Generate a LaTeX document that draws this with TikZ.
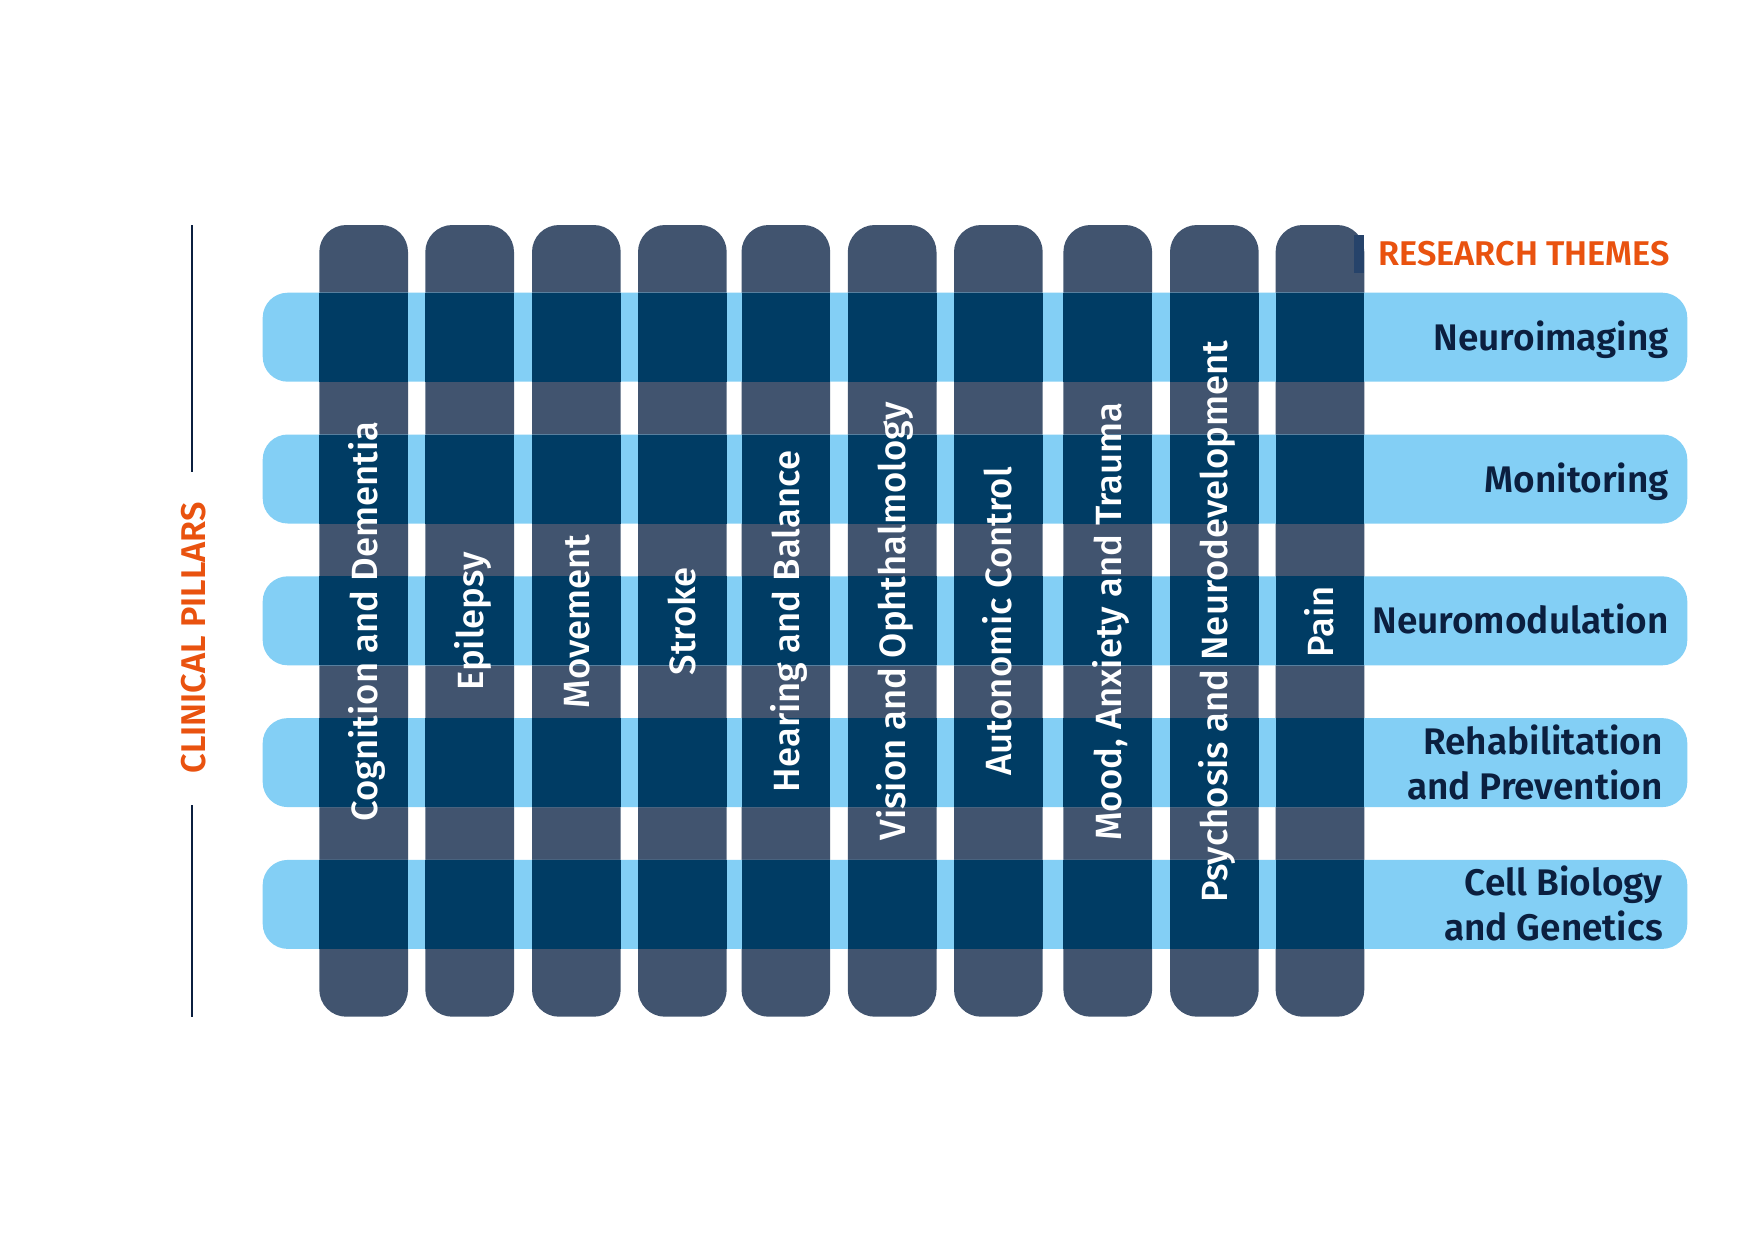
\documentclass[tikz,border=0pt]{standalone}
\usepackage{fontspec}
\setmainfont{Fira Sans}
\newfontfamily\semifont{Fira Sans SemiBold}
\newfontfamily\medfont{Fira Sans Medium}
\definecolor{pillarcol}{HTML}{41546F}
\definecolor{bandcol}{HTML}{83CFF5}
\definecolor{overcol}{HTML}{003C64}
\definecolor{stripcol}{HTML}{26436A}
\definecolor{navy}{HTML}{0B1F3F}
\definecolor{orangecol}{HTML}{E9520F}
\tikzset{
  pillarshape/.style={fill=pillarcol, rounded corners=27pt},
  bandshape/.style={fill=bandcol, rounded corners=25pt},
  overlap/.style={fill=overcol},
  ptext/.style={rotate=90, anchor=base, inner sep=0pt, text=white, font=\medfont\fontsize{36.5}{36.5}\selectfont},
  btext/.style={anchor=base east, inner sep=0pt, align=right, text=navy, font=\semifont\fontsize{37}{45}\selectfont},
  otext/.style={inner sep=0pt, text=orangecol, font=\semifont\fontsize{34.3}{34.3}\selectfont},
  rule/.style={draw=navy, line width=1.6pt}
}
\begin{document}
\begin{tikzpicture}[x=1pt,y=-1pt]
\useasboundingbox (0,0) rectangle (1754,1240);
\def\pw{88.7}
% pillars
\foreach \xl in {319.3,425.3,532,638,741.5,847.8,954,1063.4,1170,1275.6}
  \fill[pillarshape] (\xl,225) rectangle ++(\pw,791.7);
% bands
\foreach \k in {0,...,4}
  \fill[bandshape] (262.7,{292.7+141.8*\k}) rectangle (1687.3,{381.7+141.8*\k});
% overlaps
\foreach \xl in {319.3,425.3,532,638,741.5,847.8,954,1063.4,1170,1275.6}
  \foreach \k in {0,...,4}
    \fill[overlap] (\xl,{292.7+141.8*\k}) rectangle ++(\pw,89);
\fill[stripcol] (1354,235) rectangle (1364.3,272.7);
% pillar labels
\foreach \xl/\t [count=\i] in {319.3/{Cognition and Dementia},425.3/{Epilepsy},532/{Movement},638/{Stroke},741.5/{Hearing and Balance},847.8/{Vision and Ophthalmology},954/{Autonomic Control},1063.4/{Mood, Anxiety and Trauma},1170/{Psychosis and Neurodevelopment},1275.6/{Pain}}
  \node[ptext] (p\i) at ({\xl+44.35+13.5},621.5) {\t};
% band labels
\node[btext] (b1) at (1669,350.2) {Neuroimaging};
\node[btext] (b2) at (1669,492) {Monitoring};
\node[btext] (b3) at (1669,633.8) {Neuromodulation};
\node[btext] (b4) at (1663,799) {Rehabilitation\\and Prevention};
\node[btext] (b5) at (1663,940.8) {Cell Biology\\and Genetics};
% titles
\node[otext, anchor=base east] (rt) at (1670,265.7) {RESEARCH THEMES};
\node[otext, anchor=base, rotate=90] (cp) at (205,637.5) {CLINICAL PILLARS};
\coordinate (l1a) at (191.7,225);
\coordinate (l1b) at (191.7,472.3);
\coordinate (l2a) at (191.7,805);
\coordinate (l2b) at (191.7,1016.7);
\draw[rule] (l1a) -- (l1b);
\draw[rule] (l2a) -- (l2b);
\end{tikzpicture}
\end{document}
